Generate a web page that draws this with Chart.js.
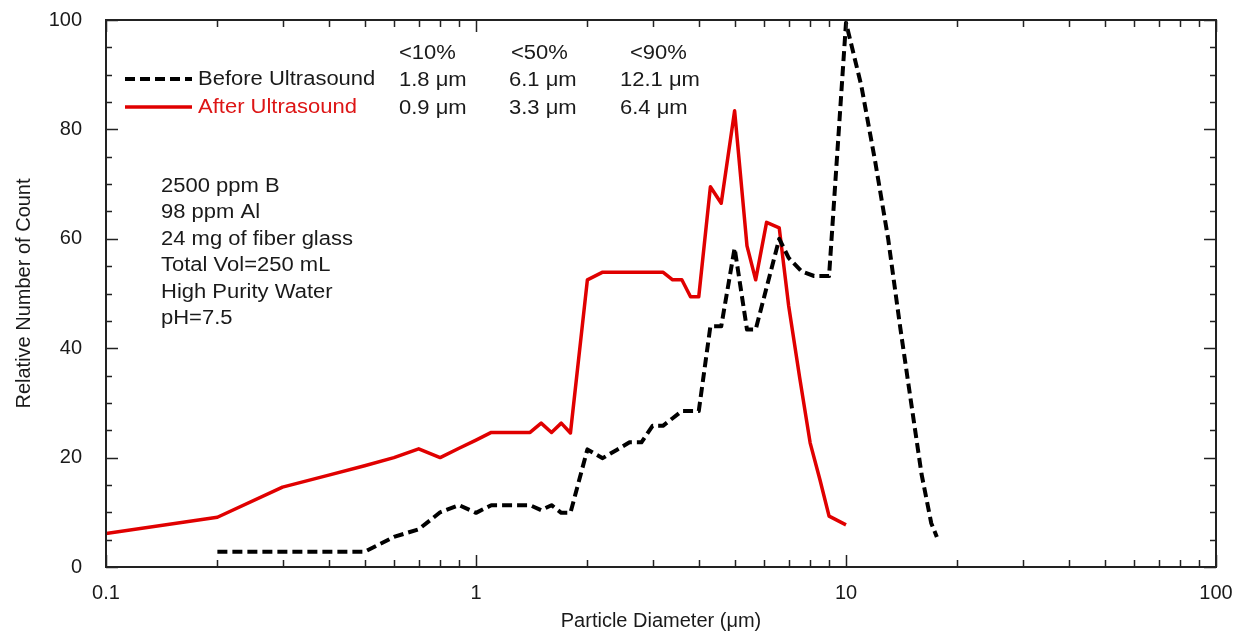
<!DOCTYPE html>
<html>
<head>
<meta charset="utf-8">
<script src="https://cdn.jsdelivr.net/npm/chart.js@4/dist/chart.umd.min.js"></script>
<style>
html,body{margin:0;padding:0;background:#fff;}
#wrap{width:1248px;height:634px;}
</style>
</head>
<body>
<div id="wrap"><canvas id="c" width="1248" height="634"></canvas></div>
<script>
// ---- data ----
const beforeX = [0.2,0.3,0.4,0.5,0.6,0.7,0.8,0.9,1.0,1.1,1.2,1.3,1.4,1.5,1.6,1.7,1.8,2.0,2.2,2.4,2.6,2.8,3.0,3.2,3.4,3.6,3.8,4.0,4.3,4.6,5.0,5.4,5.7,6.6,7.0,7.6,8.2,9.0,10,11,12,13,14,15,16,17,17.6];
const beforeY = [2.8,2.8,2.8,2.8,5.5,6.9,10.0,11.3,9.9,11.3,11.3,11.3,11.3,10.4,11.3,9.9,9.9,21.5,19.9,21.4,22.8,22.8,25.8,25.8,27.2,28.5,28.5,28.5,44.0,44.0,58.3,43.4,43.4,60.0,56.5,54.0,53.2,53.2,99.5,88.0,74.0,60.0,44.0,30.0,17.0,8.0,5.5];
const afterX = [0.1,0.2,0.3,0.4,0.5,0.6,0.7,0.8,0.9,1.0,1.1,1.2,1.3,1.4,1.5,1.6,1.7,1.8,2.0,2.2,2.4,2.6,2.8,3.0,3.2,3.4,3.6,3.8,4.0,4.3,4.6,5.0,5.4,5.7,6.1,6.6,7.0,7.5,8.0,8.5,9.0,10];
const afterY = [6.1,9.1,14.6,16.8,18.5,20.0,21.6,20.0,21.7,23.2,24.6,24.6,24.6,24.6,26.3,24.6,26.3,24.5,52.5,53.9,53.9,53.9,53.9,53.9,53.9,52.5,52.5,49.4,49.4,69.5,66.5,83.4,58.7,52.5,63.0,62.0,47.7,34.5,22.7,16.0,9.3,7.7];

const xTickValues = [0.1,0.2,0.3,0.4,0.5,0.6,0.7,0.8,0.9,1,2,3,4,5,6,7,8,9,10,20,30,40,50,60,70,80,90,100];
const xTickLabels = ['0.1','1','10','100'];
const yTickValues = [0,5,10,15,20,25,30,35,40,45,50,55,60,65,70,75,80,85,90,95,100];
const yTickLabels = [0,20,40,60,80,100];

const seriesNames = ['Before Ultrasound','After Ultrasound'];
const pctHeaders = ['<10%','<50%','<90%'];
const beforeStats = ['1.8 \u03bcm','6.1 \u03bcm','12.1 \u03bcm'];
const afterStats = ['0.9 \u03bcm','3.3 \u03bcm','6.4 \u03bcm'];
const conditions = ['2500 ppm B','98 ppm Al','24 mg of fiber glass','Total Vol=250 mL','High Purity Water','pH=7.5'];
const xTitle = 'Particle Diameter (\u03bcm)';
const yTitle = 'Relative Number of Count';

// ---- styling ----
const FONT = "'Liberation Sans', Arial, Helvetica, sans-serif";
const TXT = '#1a1a1a';
const RED = '#e00000';
const RED_TXT = '#dd1515';

function isDecade(v){ const l = Math.log10(v); return Math.abs(l - Math.round(l)) < 1e-6; }

function drawText(ctx, s, x, y, color){
  ctx.save();
  ctx.translate(x, y);
  ctx.scale(1.1, 1);
  ctx.fillStyle = color;
  ctx.font = '20px ' + FONT;
  ctx.textAlign = 'left';
  ctx.textBaseline = 'middle';
  ctx.fillText(s, 0, 0);
  ctx.restore();
}

const framePlugin = {
  id: 'frameTicks',
  afterDraw(chart){
    const {ctx, chartArea:{left,right,top,bottom}, scales:{x,y}} = chart;
    ctx.save();
    ctx.strokeStyle = '#222';
    ctx.lineWidth = 1.5;
    ctx.beginPath();
    x.ticks.forEach(t => {
      const px = Math.round(x.getPixelForValue(t.value)) + 0.5;
      const L = isDecade(t.value) ? 12 : 7;
      ctx.moveTo(px, bottom); ctx.lineTo(px, bottom - L);
      ctx.moveTo(px, top); ctx.lineTo(px, top + L);
    });
    y.ticks.forEach(t => {
      const py = Math.round(y.getPixelForValue(t.value)) + 0.5;
      const L = yTickLabels.includes(t.value) ? 12 : 6;
      ctx.moveTo(left, py); ctx.lineTo(left + L, py);
      ctx.moveTo(right, py); ctx.lineTo(right - L, py);
    });
    ctx.stroke();
    ctx.lineWidth = 2;
    ctx.strokeRect(left, top, right - left, bottom - top);

    // legend samples
    ctx.lineWidth = 4;
    ctx.strokeStyle = '#000';
    ctx.setLineDash([10,5]);
    ctx.beginPath(); ctx.moveTo(125, 79); ctx.lineTo(192, 79); ctx.stroke();
    ctx.setLineDash([]);
    ctx.lineWidth = 3.5;
    ctx.strokeStyle = RED;
    ctx.beginPath(); ctx.moveTo(125, 107); ctx.lineTo(192, 107); ctx.stroke();
    ctx.restore();

    drawText(ctx, seriesNames[0], 198, 79, TXT);
    drawText(ctx, seriesNames[1], 198, 107, RED_TXT);

    const hx = [399, 511, 630];
    const vx = [399, 509, 620];
    pctHeaders.forEach((s,i) => drawText(ctx, s, hx[i], 53, TXT));
    beforeStats.forEach((s,i) => drawText(ctx, s, vx[i], 80, TXT));
    afterStats.forEach((s,i) => drawText(ctx, s, vx[i], 108, TXT));

    conditions.forEach((s,i) => drawText(ctx, s, 161, 186 + i*26.5, TXT));
  }
};

new Chart(document.getElementById('c'), {
  type: 'line',
  data: {
    datasets: [
      {
        label: seriesNames[0],
        data: beforeX.map((v,i) => ({x:v, y:beforeY[i]})),
        borderColor: '#000',
        borderWidth: 4,
        borderDash: [10,5],
        borderJoinStyle: 'round',
        pointRadius: 0,
        tension: 0,
        fill: false
      },
      {
        label: seriesNames[1],
        data: afterX.map((v,i) => ({x:v, y:afterY[i]})),
        borderColor: RED,
        borderWidth: 3.5,
        borderJoinStyle: 'round',
        pointRadius: 0,
        tension: 0,
        fill: false
      }
    ]
  },
  options: {
    responsive: false,
    animation: false,
    devicePixelRatio: 1,
    layout: { padding: { top: 20, right: 32, left: 0, bottom: 0 } },
    plugins: { legend: { display: false }, tooltip: { enabled: false } },
    scales: {
      x: {
        type: 'logarithmic',
        min: 0.1, max: 100,
        position: 'bottom',
        grid: { display: false, drawTicks: false },
        border: { display: false },
        afterBuildTicks(s){ s.ticks = xTickValues.map(v => ({value: v})); },
        afterFit(s){ s.height = 67; s.paddingLeft = 0; s.paddingRight = 0; },
        ticks: {
          autoSkip: false, maxRotation: 0, padding: 14,
          color: TXT, font: { family: FONT, size: 20 },
          callback(v){
            if (!isDecade(v)) return '';
            const idx = Math.round(Math.log10(v)) + 1;
            return xTickLabels[idx];
          }
        },
        title: { display: true, text: xTitle, color: TXT, font: { family: FONT, size: 20 }, padding: { top: 0, bottom: 1 } }
      },
      y: {
        type: 'linear',
        min: 0, max: 100,
        grid: { display: false, drawTicks: false },
        border: { display: false },
        afterBuildTicks(s){ s.ticks = yTickValues.map(v => ({value: v})); },
        afterFit(s){ s.width = 106; s.paddingTop = 0; s.paddingBottom = 0; },
        ticks: {
          autoSkip: false, padding: 24,
          color: TXT, font: { family: FONT, size: 20 },
          callback(v){ return yTickLabels.includes(v) ? String(v) : ''; }
        },
        title: { display: true, text: yTitle, color: TXT, font: { family: FONT, size: 20 }, padding: { top: 12, bottom: 0 } }
      }
    }
  },
  plugins: [framePlugin]
});
</script>
</body>
</html>
